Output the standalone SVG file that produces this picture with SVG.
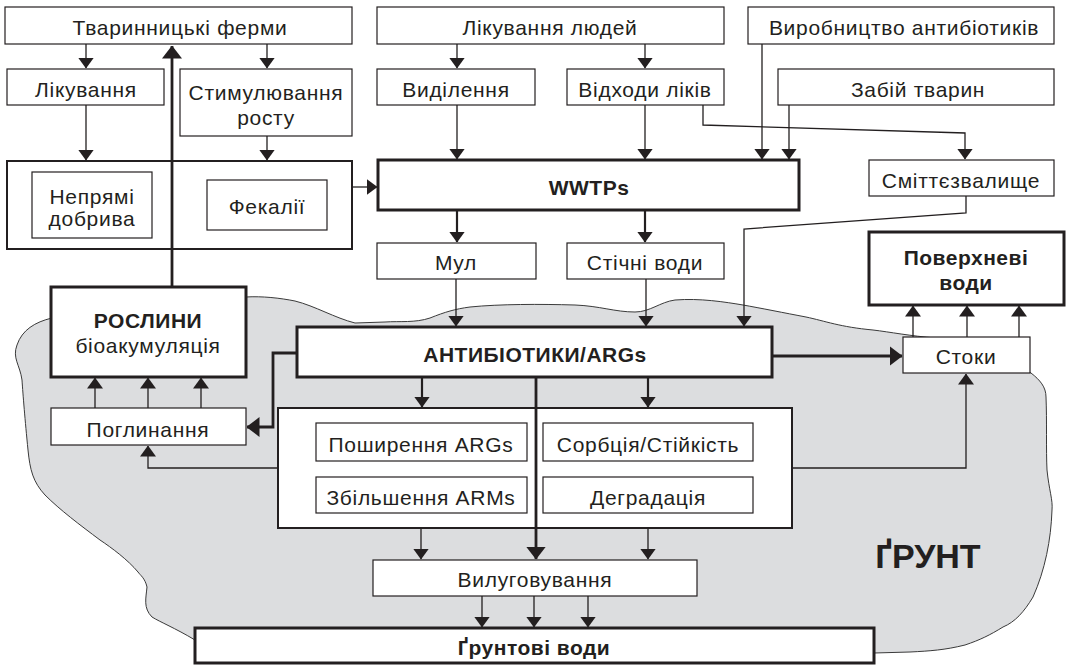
<svg xmlns="http://www.w3.org/2000/svg" width="1066" height="665" viewBox="0 0 1066 665">
<defs>
<style>
text{font-family:"Liberation Sans","DejaVu Sans",sans-serif;font-size:21px;letter-spacing:0.7px;fill:#231f20;text-anchor:middle}
.b{font-weight:bold;letter-spacing:0.5px}
.box{fill:#fff;stroke:#231f20;stroke-width:1.2}
.mid{fill:#fff;stroke:#231f20;stroke-width:2}
.thk{fill:#fff;stroke:#231f20;stroke-width:3}
.c{fill:none;stroke:#231f20;stroke-width:1.3}
.c2{fill:none;stroke:#231f20;stroke-width:2.2}
.c3{fill:none;stroke:#231f20;stroke-width:2.8}
</style>
<marker id="ah" markerUnits="userSpaceOnUse" markerWidth="11" markerHeight="16" viewBox="0 0 11 16" refX="10.5" refY="8" orient="auto"><path d="M0,0 L11,8 L0,16 z" fill="#231f20"/></marker>
<marker id="ahb" markerUnits="userSpaceOnUse" markerWidth="13" markerHeight="20" viewBox="0 0 13 20" refX="12.5" refY="10" orient="auto"><path d="M0,0 L13,10 L0,20 z" fill="#231f20"/></marker>
</defs>
<rect width="1066" height="665" fill="#fff"/>
<path id="soil" d="M17,345 C22,330 35,322 52,318 L246,297 C262,296 280,298 295,301 C315,306 335,318 355,323 L385,322 C400,321 415,323 430,318 C445,312 455,309 470,307 C500,304 540,304 575,305 C600,306 615,312 635,312 C650,312 660,302 675,300 C700,298 725,302 743,305 C760,308 785,313 806,317 C825,321 840,327 873,330 C890,332 910,336 936,338 C960,345 1010,360 1031,373 C1040,380 1046,387 1046,397 C1047,420 1046,450 1047,470 C1049,490 1053,500 1052,510 C1051,540 1045,570 1033,597 C1024,612 1015,622 1003,627 C990,635 980,640 965,645 C945,650 930,651 910,652 L874,653 L195,640 C175,628 160,622 152,617 C143,608 146,598 147,587 C145,578 140,575 138,572 C128,560 112,548 100,540 C80,525 60,510 45,495 C33,482 30,470 28,450 C25,420 23,395 22,380 C20,365 12,358 17,345 Z" fill="#dcdddf" stroke="#3a3a3a" stroke-width="1"/>

<g id="farms"><rect class="box" x="5" y="7" width="347" height="37"/><text x="180" y="35">Тваринницькі ферми</text></g>
<g id="treat"><rect class="box" x="7" y="69" width="157" height="36"/><text x="86" y="97">Лікування</text></g>
<g id="growth"><rect class="box" x="180" y="69" width="172" height="67"/><text x="266" y="100">Стимулювання</text><text x="266" y="125">росту</text></g>
<g id="manure"><rect class="mid" x="7" y="161" width="345" height="88"/>
<rect class="box" x="32" y="172" width="120" height="66"/><text x="92" y="204">Непрямі</text><text x="92" y="226">добрива</text>
<rect class="box" x="207" y="180" width="120" height="50"/><text x="267" y="214">Фекалії</text></g>
<g id="human"><rect class="box" x="377" y="7" width="347" height="37"/><text x="550" y="35">Лікування людей</text></g>
<g id="excretion"><rect class="box" x="377" y="69" width="158" height="36"/><text x="456" y="97">Виділення</text></g>
<g id="waste"><rect class="box" x="567" y="69" width="157" height="36"/><text x="645" y="97">Відходи ліків</text></g>
<g id="production"><rect class="box" x="748" y="7" width="306" height="37"/><text x="904" y="35">Виробництво антибіотиків</text></g>
<g id="slaughter"><rect class="box" x="778" y="69" width="276" height="36"/><text x="918" y="97">Забій тварин</text></g>
<g id="wwtps"><rect class="thk" x="378" y="160" width="421" height="50"/><text class="b" x="589" y="195">WWTPs</text></g>
<g id="landfill"><rect class="box" x="869" y="160" width="185" height="36"/><text x="961" y="188">Сміттєзвалище</text></g>
<g id="sludge"><rect class="box" x="377" y="243" width="159" height="36"/><text x="456" y="270">Мул</text></g>
<g id="effluent"><rect class="box" x="567" y="243" width="157" height="36"/><text x="645" y="270">Стічні води</text></g>
<g id="surface"><rect class="thk" x="869" y="232" width="195" height="73"/><text class="b" x="966" y="265">Поверхневі</text><text class="b" x="966" y="290">води</text></g>
<g id="plants"><rect class="thk" x="51" y="287" width="195" height="90"/><text class="b" x="148" y="328">РОСЛИНИ</text><text x="148" y="353">біоакумуляція</text></g>
<g id="antibiotics"><rect class="thk" x="297" y="327" width="475" height="50"/><text class="b" x="535" y="362">АНТИБІОТИКИ/ARGs</text></g>
<g id="runoff"><rect class="box" x="903" y="337" width="127" height="36"/><text x="966" y="364">Стоки</text></g>
<g id="uptake"><rect class="box" x="51" y="408" width="195" height="37"/><text x="148" y="437">Поглинання</text></g>
<g id="processes"><rect class="mid" x="278" y="408" width="514" height="120"/>
<rect class="box" x="316" y="423" width="211" height="38"/><text x="421" y="452">Поширення ARGs</text>
<rect class="box" x="543" y="423" width="210" height="38"/><text x="648" y="452">Сорбція/Стійкість</text>
<rect class="box" x="316" y="477" width="211" height="36"/><text x="421" y="505">Збільшення ARMs</text>
<rect class="box" x="543" y="477" width="210" height="36"/><text x="648" y="505">Деградація</text></g>
<g id="leaching"><rect class="box" x="373" y="560" width="324" height="36"/><text x="535" y="587">Вилуговування</text></g>
<g id="groundwater"><rect class="thk" x="195" y="628" width="679" height="35"/><text class="b" x="534" y="655">Ґрунтові води</text></g>
<g id="soil-label"><text class="b" x="928" y="568" style="font-size:34px;letter-spacing:0">ҐРУНТ</text></g>

<g id="connectors">
<path class="c" d="M86,44 V68" marker-end="url(#ah)"/>
<path class="c" d="M267,44 V68" marker-end="url(#ah)"/>
<path class="c" d="M86,105 V160" marker-end="url(#ah)"/>
<path class="c" d="M267,136 V160" marker-end="url(#ah)"/>
<path class="c3" d="M172,287 V46" marker-end="url(#ahb)"/>
<path class="c" d="M352,187 H377" marker-end="url(#ah)"/>
<path class="c" d="M457,44 V68" marker-end="url(#ah)"/>
<path class="c" d="M645,44 V68" marker-end="url(#ah)"/>
<path class="c" d="M457,105 V159" marker-end="url(#ah)"/>
<path class="c" d="M645,105 V159" marker-end="url(#ah)"/>
<path class="c" d="M762,44 V159" marker-end="url(#ah)"/>
<path class="c" d="M789,105 V159" marker-end="url(#ah)"/>
<path class="c" d="M703,105 V125 L965,133 V159" marker-end="url(#ah)"/>
<path class="c2" d="M457,210 V242" marker-end="url(#ah)"/>
<path class="c2" d="M645,210 V242" marker-end="url(#ah)"/>
<path class="c" d="M456,279 V326" marker-end="url(#ah)"/>
<path class="c" d="M646,279 V326" marker-end="url(#ah)"/>
<path class="c" d="M966,196 V213 L744,229 V326" marker-end="url(#ah)"/>
<path class="c3" d="M772,356 H902" marker-end="url(#ahb)"/>
<path class="c" d="M913,337 V306" marker-end="url(#ah)"/>
<path class="c" d="M967,337 V306" marker-end="url(#ah)"/>
<path class="c" d="M1019,337 V306" marker-end="url(#ah)"/>
<path class="c3" d="M297,353 H273 V427 H247" marker-end="url(#ahb)"/>
<path class="c2" d="M422,377 V407" marker-end="url(#ah)"/>
<path class="c2" d="M648,377 V407" marker-end="url(#ah)"/>
<path class="c3" d="M536,377 V559" marker-end="url(#ahb)"/>
<path class="c" d="M421,528 V559" marker-end="url(#ah)"/>
<path class="c" d="M648,528 V559" marker-end="url(#ah)"/>
<path class="c" d="M278,468 H148 V446" marker-end="url(#ah)"/>
<path class="c" d="M792,468 H966 V374" marker-end="url(#ah)"/>
<path class="c" d="M95,408 V378" marker-end="url(#ah)"/>
<path class="c" d="M148,408 V378" marker-end="url(#ah)"/>
<path class="c" d="M201,408 V378" marker-end="url(#ah)"/>
<path class="c" d="M482,596 V627" marker-end="url(#ah)"/>
<path class="c" d="M534,596 V627" marker-end="url(#ah)"/>
<path class="c" d="M588,596 V627" marker-end="url(#ah)"/>
</g>
</svg>
